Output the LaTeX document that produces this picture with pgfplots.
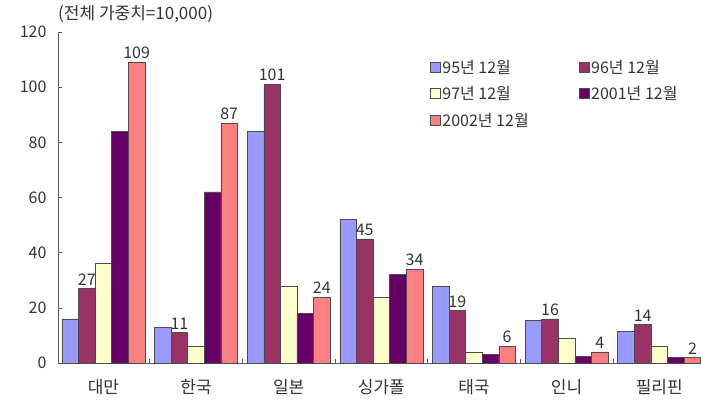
\documentclass[border=0pt]{standalone}
\usepackage{fontspec}
\setmainfont{Noto Sans CJK KR}
\usepackage{pgfplots}
\pgfplotsset{compat=1.18}
\definecolor{cA}{HTML}{9999FF}
\definecolor{cB}{HTML}{993366}
\definecolor{cC}{HTML}{FFFFCC}
\definecolor{cD}{HTML}{660066}
\definecolor{cE}{HTML}{FF8080}
\begin{document}
\fontsize{16}{19}\selectfont
\begin{tikzpicture}[x=1pt,y=1pt]
\useasboundingbox (0,0) rectangle (701,401);
\begin{axis}[
  at={(58pt,38pt)}, anchor=south west,
  scale only axis, width=642pt, height=331pt,
  xmin=-0.49, xmax=6.44, ymin=0, ymax=120,
  ybar=0pt, bar width=16.6pt,
  axis x line=bottom, axis y line=left,
  axis line style={-, black!65, line width=0.8pt},
  /pgf/number format/assume math mode=true,
  ytick={0,20,...,120},
  tick align=inside, major tick length=4pt, minor tick length=4pt,
  tick style={black!65, line width=0.6pt},
  xtick={0,...,6},
  xticklabels={대만,한국,일본,싱가폴,태국,인니,필리핀},
  major x tick style={draw=none},
  minor xtick={0.5,1.5,2.5,3.5,4.5,5.5},
  ticklabel style={font=\fontsize{16}{19}\selectfont, text=black!80},
  xticklabel style={yshift=-11pt, font=\fontsize{17}{20}\selectfont},
  yticklabel style={xshift=-6pt},
  every axis plot/.append style={draw=black!70, line width=0.5pt},
  every axis plot post/.append style={
    legend image code/.code={\draw[##1, draw=black!70, line width=0.5pt] (0pt,-4pt) rectangle (10pt,6pt);}},
  legend columns=2,
  legend cell align=left,
  legend style={at={(0.579,0.922)}, anchor=north west, draw=none, fill=none,
    font=\fontsize{16}{19}\selectfont, text=black!80,
    inner sep=0pt, row sep=7pt,
    /tikz/every even column/.style={column sep=48pt}},
  nodes near coords style={font=\fontsize{16}{19}\selectfont, text=black!80, inner sep=3pt},
  clip=false,
]
\addplot[fill=cA] coordinates {(0,16) (1,13) (2,84) (3,52) (4,28) (5,15.5) (6,11.5)};
\addplot[fill=cB, nodes near coords] coordinates {(0,27) (1,11) (2,101) (3,45) (4,19) (5,16) (6,14)};
\addplot[fill=cC] coordinates {(0,36) (1,6) (2,28) (3,24) (4,4) (5,9) (6,6)};
\addplot[fill=cD] coordinates {(0,84) (1,62) (2,18) (3,32) (4,3) (5,2.5) (6,2)};
\addplot[fill=cE, nodes near coords] coordinates {(0,109) (1,87) (2,24) (3,34) (4,6) (5,4) (6,2)};
\legend{95년 12월,96년 12월,97년 12월,2001년 12월,2002년 12월}
\end{axis}
\node[anchor=west, inner sep=0pt, text=black!80, font=\fontsize{17}{20}\selectfont] at (58,387) {(전체 가중치=10,000)};
\end{tikzpicture}
\end{document}
